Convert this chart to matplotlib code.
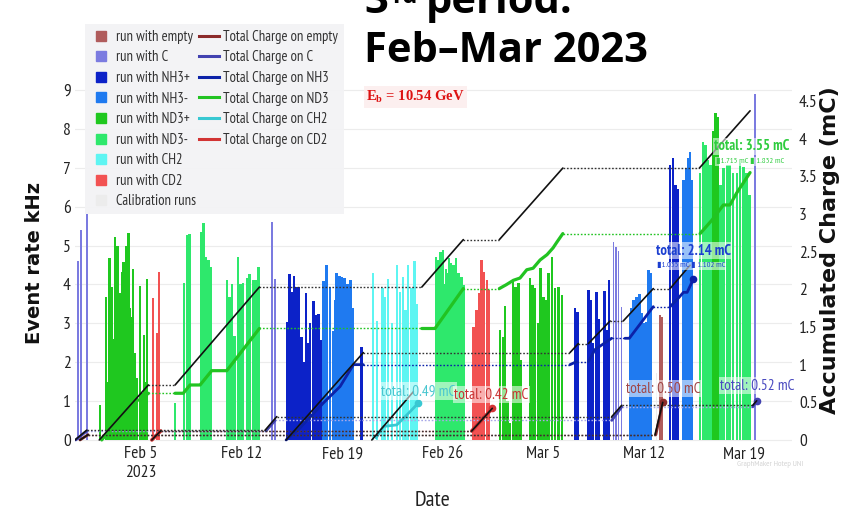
import datetime as dt
import numpy as np
import matplotlib
matplotlib.use('Agg')
import matplotlib.pyplot as plt
import matplotlib.dates as mdates
from matplotlib.lines import Line2D
from matplotlib import font_manager as fm

avail = {f.name for f in fm.fontManager.ttflist}
NARROW = next((n for n in ['PT Sans Narrow', 'Archivo Narrow', 'Roboto Condensed', 'Liberation Sans Narrow']
               if n in avail), 'Liberation Sans')
TITLEF = 'Open Sans' if 'Open Sans' in avail else 'DejaVu Sans'
NFAM = [NARROW, 'DejaVu Sans']

BASE = mdates.date2num(dt.datetime(2023, 2, 1))

# ---------------- data (days after 2023-02-01, kHz / mC) ----------------
tick_days = [4, 11, 18, 25, 32, 39, 46]
tick_labels = ['Feb 5\n2023', 'Feb 12', 'Feb 19', 'Feb 26', 'Mar 5', 'Mar 12', 'Mar 19']
left_ticks = [0, 1, 2, 3, 4, 5, 6, 7, 8, 9]
right_ticks = [0, 0.5, 1, 1.5, 2, 2.5, 3, 3.5, 4, 4.5]
right_labels = ['0', '0.5', '1', '1.5', '2', '2.5', '3', '3.5', '4', '4.5']

empty_t = [40.14, 40.28]
empty_h = [3.21, 3.17]
c_t = [-0.37, -0.18, 0.26, 13.10, 13.33, 36.90, 37.08, 37.25, 37.46, 46.74]
c_h = [4.6, 5.4, 5.8, 5.6, 4.15, 5.1, 4.97, 4.86, 3.43, 8.9]
nh3p_t = [14.19, 14.33, 14.52, 14.65, 14.84, 15.00, 15.19, 15.35, 15.49, 15.63, 15.77, 16.00, 16.19, 16.35, 16.50,
          19.37, 34.22, 34.40, 35.15, 35.31, 35.47, 35.73, 35.89, 36.27, 36.41, 36.59, 40.84, 41.03, 41.22, 41.40]
nh3p_h = [3.04, 4.27, 3.8, 4.22, 3.93, 3.93, 2.66, 2.0, 3.78, 2.5, 3.0, 3.58, 3.21, 3.24, 2.57,
          2.4, 3.39, 3.28, 3.86, 3.6, 2.5, 3.81, 3.1, 3.84, 2.83, 4.11, 7.07, 7.24, 6.55, 6.45]
nh3m_t = [16.69, 16.93, 17.16, 17.37, 17.50, 17.63, 17.81, 17.98, 18.16, 18.37, 18.60, 18.74,
          38.05, 38.16, 38.28, 38.40, 38.52, 38.62, 38.72, 38.89, 39.00, 39.17, 39.34, 39.52,
          41.77, 41.95, 42.13, 42.23, 42.37]
nh3m_h = [4.1, 4.5, 3.93, 2.8, 3.6, 4.3, 4.22, 4.2, 4.16, 4.0, 4.11, 3.4,
          3.26, 3.4, 3.6, 3.5, 3.68, 3.6, 3.75, 3.26, 3.0, 3.04, 4.37, 4.3,
          6.68, 7.0, 7.24, 7.41, 6.68]
nd3p_t = [1.15, 1.56, 1.68, 1.79, 1.96, 2.08, 2.19, 2.35, 2.45, 2.54, 2.66, 2.77, 2.87, 2.96, 3.05, 3.12, 3.20,
          3.28, 3.42, 3.58, 3.72, 3.93, 4.07, 4.21, 4.30, 4.40,
          29.00, 29.19, 29.35, 29.52, 29.70, 29.91, 30.08, 30.28, 30.46, 31.09, 31.27, 31.44, 31.65, 31.83,
          32.01, 32.20, 32.37, 32.62, 32.83, 33.06, 33.30, 43.83, 44.01, 44.18]
nd3p_h = [0.9, 3.68, 1.5, 4.68, 3.93, 2.6, 5.23, 5.0, 3.3, 3.78, 4.33, 4.58, 3.0, 5.0, 2.4, 5.32, 3.4,
          3.17, 4.4, 2.23, 1.6, 3.96, 1.2, 2.7, 1.5, 4.14,
          2.83, 2.66, 3.45, 1.0, 0.43, 4.11, 3.94, 4.03, 2.06, 4.16, 3.98, 3.9, 3.0, 4.42,
          3.68, 3.6, 4.29, 4.71, 3.9, 3.94, 3.73, 7.95, 8.4, 8.3]
nd3m_t = [6.37, 6.99, 7.18, 7.36, 8.16, 8.34, 8.53, 8.69, 8.85, 9.97, 10.15, 10.32, 10.50, 10.76, 10.93,
          11.10, 11.36, 11.54, 11.78, 11.97, 12.18,
          24.54, 24.63, 24.72, 24.86, 24.95, 25.03, 25.14, 25.24, 25.35, 25.45, 25.59, 25.67, 25.76, 25.85,
          25.94, 26.02, 26.11, 26.21, 26.32, 26.46,
          42.93, 43.12, 43.31, 43.49, 43.66, 44.36, 44.57, 44.79, 44.97, 45.23, 45.49, 45.72, 45.95, 46.17, 46.37]
nd3m_h = [0.95, 4.04, 5.27, 5.3, 5.35, 5.58, 4.7, 4.63, 4.45, 4.11, 3.68, 4.0, 2.67, 4.71, 4.0,
          4.03, 4.16, 4.26, 4.11, 4.11, 4.45,
          4.7, 4.0, 4.63, 4.84, 4.2, 4.88, 4.0, 4.4, 4.3, 4.68, 4.55, 4.0, 4.5, 4.2,
          4.68, 4.0, 4.3, 3.9, 4.2, 3.98,
          6.86, 7.67, 7.58, 7.2, 7.07, 6.55, 7.0, 7.07, 7.07, 6.86, 6.86, 7.11, 7.03, 6.86, 6.3]
ch2_t = [20.15, 20.43, 20.82, 20.99, 21.20, 21.48, 21.83, 22.04, 22.25, 22.42, 22.60, 22.84, 23.05, 23.22]
ch2_h = [4.3, 3.05, 3.9, 3.68, 4.15, 3.0, 4.5, 3.8, 4.2, 3.34, 4.5, 3.9, 4.6, 3.5]
cd2_t = [4.85, 5.09, 5.27, 27.15, 27.36, 27.55, 27.71, 27.89, 28.07, 28.23]
cd2_h = [3.65, 2.75, 4.33, 2.91, 3.34, 3.78, 4.63, 4.33, 4.11, 3.85]
calib_t = [39.90]
calib_h = [1.73]

# accumulated charge segments: list of (days, mC)
nd3_black = [([1.09, 4.51], [0, 0.73]), ([6.37, 12.24], [0.73, 2.03]), ([23.55, 26.44], [2.03, 2.66]),
             ([28.95, 33.37], [2.66, 3.61]), ([42.88, 46.41], [3.61, 4.37])]
nd3_line = [([1.26, 3.58, 3.93, 4.51], [0, 0.53, 0.53, 0.62]),
            ([6.37, 6.94, 7.41, 8.11, 8.92, 9.97, 12.24], [0.62, 0.62, 0.73, 0.73, 0.92, 0.92, 1.48]),
            ([23.55, 24.47, 26.44], [1.48, 1.48, 2.01]),
            ([28.95, 29.42, 29.93, 30.39, 30.86, 31.30, 31.79, 32.27, 32.69, 32.97, 33.37],
             [2.01, 2.06, 2.12, 2.15, 2.26, 2.28, 2.39, 2.46, 2.55, 2.63, 2.74]),
            ([42.93, 43.76, 44.55, 45.01, 45.48, 46.41], [2.74, 2.92, 3.12, 3.12, 3.28, 3.55])]
nh3_black = [([14.10, 19.48], [0, 1.16]), ([33.87, 34.45], [1.16, 1.28]), ([35.15, 36.66], [1.28, 1.58]),
             ([37.58, 39.67], [1.58, 2.01]), ([40.84, 42.23], [2.01, 2.32])]
nh3_line = [([14.10, 15.07, 16.69, 17.86, 18.79, 19.48], [0, 0.16, 0.49, 0.71, 1.0, 1.0]),
            ([33.87, 34.33], [1.0, 1.04]),
            ([35.15, 35.61, 36.77], [1.04, 1.2, 1.35]),
            ([37.70, 38.00, 39.67], [1.35, 1.35, 1.77]),
            ([40.84, 41.31, 41.77, 42.03, 42.47], [1.77, 1.86, 1.96, 1.96, 2.14])]
ch2_black = [([20.07, 22.96], [0, 0.64])]
ch2_line = [([20.37, 20.88, 21.81, 22.50, 23.31], [0.03, 0.18, 0.2, 0.33, 0.49])]
cd2_black = [([4.75, 5.37], [0, 0.12]), ([27.03, 28.46], [0.12, 0.42])]
cd2_line = [([4.75, 5.37], [0, 0.12]), ([27.03, 28.46], [0.12, 0.42])]
c_black = [([-0.60, 0.22], [0, 0.13]), ([12.64, 13.45], [0.13, 0.31]), ([36.78, 37.47], [0.31, 0.46]),
           ([46.60, 46.87], [0.46, 0.52])]
c_line = [([-0.55, 0.22], [0, 0.12]), ([12.70, 13.33], [0.12, 0.26]), ([36.78, 37.47], [0.26, 0.44]),
          ([46.60, 46.87], [0.44, 0.52])]
empty_black = [([-0.25, 0.31], [0, 0.07]), ([39.79, 40.33], [0.07, 0.50])]
empty_line = [([-0.25, 0.31], [0, 0.07]), ([39.85, 40.33], [0.07, 0.50])]

# ---------------- style ----------------
COL_EMPTY, COL_C, COL_NH3P, COL_NH3M = '#b05c5c', '#7b7be0', '#0c22c8', '#1f7af0'
COL_ND3P, COL_ND3M, COL_CH2, COL_CD2, COL_CAL = '#1fc81f', '#2ee86c', '#5ef5f2', '#f25252', '#ececec'
L_EMPTY, L_C, L_NH3, L_ND3, L_CH2, L_CD2 = '#8b2a2a', '#4242b0', '#0c22a8', '#22c322', '#38c8d2', '#d23434'

fig = plt.figure(figsize=(8.46, 5.16), dpi=100)
W, H = 846.0, 516.0
ax = fig.add_axes([75 / W, 74 / H, (792 - 75) / W, (442 - 88) / H])
ax2 = ax.twinx()

def X(t):
    return BASE + np.asarray(t, dtype=float)

bar_sets = [(calib_t, calib_h, COL_CAL, 0.08), (empty_t, empty_h, COL_EMPTY, 0.16), (c_t, c_h, COL_C, 0.12),
            (nh3p_t, nh3p_h, COL_NH3P, 0.18), (nh3m_t, nh3m_h, COL_NH3M, 0.18),
            (nd3p_t, nd3p_h, COL_ND3P, 0.17), (nd3m_t, nd3m_h, COL_ND3M, 0.17),
            (ch2_t, ch2_h, COL_CH2, 0.16), (cd2_t, cd2_h, COL_CD2, 0.16)]
for t, h, col, w in bar_sets:
    ax.bar(X(t), h, width=w, color=col, linewidth=0, align='center', zorder=2)

dots = (0, (1.2, 1.3))

def draw_series(segs, color, lw, hold_color=None, end_dot=False, z=3):
    hc = hold_color or color
    for i, (t, q) in enumerate(segs):
        ax2.plot(X(t), q, color=color, lw=lw, solid_capstyle='round', zorder=z)
        if i + 1 < len(segs):
            nt = segs[i + 1][0][0]
            ax2.plot(X([t[-1], nt]), [q[-1], q[-1]], color=hc, lw=1.0, ls=dots, zorder=z - 0.5)
    if end_dot:
        t, q = segs[-1]
        ax2.plot(X([t[-1]]), [q[-1]], 'o', color=color, ms=4.5, zorder=z + 1)

draw_series(empty_line, L_EMPTY, 2.0, end_dot=True)
draw_series(c_line, L_C, 2.0, hold_color='#a8a8e8', end_dot=True)
draw_series(cd2_line, L_CD2, 2.6, end_dot=True)
draw_series(ch2_line, L_CH2, 2.0, end_dot=True)
draw_series(nh3_line, L_NH3, 2.0, end_dot=True)
draw_series(nd3_line, L_ND3, 2.3)
for segs in (empty_black, c_black, cd2_black, ch2_black, nh3_black, nd3_black):
    draw_series(segs, '#111111', 1.2, hold_color='#333333', z=4)

# labels for totals
lab_kw = dict(fontsize=11, family=NFAM, va='center', ha='left', zorder=6,
              bbox=dict(boxstyle='square,pad=0.1', facecolor='white', edgecolor='none', alpha=0.55))
ax2.text(X(20.71), 0.65, 'total: 0.49 mC', color='#48c6d0', **lab_kw)
ax2.text(X(25.80), 0.60, 'total: 0.42 mC', color='#c83232', **lab_kw)
ax2.text(X(37.78), 0.68, 'total: 0.50 mC', color='#a04646', **lab_kw)
ax2.text(X(44.32), 0.72, 'total: 0.52 mC', color='#4a4ac0', **lab_kw)
bold_kw = dict(lab_kw, fontsize=10.5, fontweight='bold')
ax2.text(X(39.86), 2.51, 'total: 2.14 mC', color='#1c3fd0', **bold_kw)
ax2.text(X(43.90), 3.90, 'total: 3.55 mC', color='#2fcc3f', **bold_kw)
small_kw = dict(lab_kw, fontsize=6)
ax2.text(X(39.93), 2.31, '\u25ae1.035 mC \u25ae 1.102 mC', color='#1c3fd0', **small_kw)
ax2.text(X(44.04), 3.70, '\u25ae1.715 mC \u25ae 1.832 mC', color='#2fcc3f', **small_kw)

# axes formatting
ax.set_xlim(X(-0.60), X(49.33))
ax.set_ylim(-0.05, 9.05)
ax2.set_ylim(-0.027, 4.673)
ax.set_xticks(X(tick_days))
ax.set_xticklabels(tick_labels)
ax.set_yticks(left_ticks)
ax.set_yticklabels([str(v) for v in left_ticks])
ax2.set_yticks(right_ticks)
ax2.set_yticklabels(right_labels)
for a in (ax, ax2):
    for s in a.spines.values():
        s.set_visible(False)
ax.tick_params(axis='both', length=0, labelsize=12.5, labelcolor='#222222')
ax.tick_params(axis='x', pad=3)
ax.tick_params(axis='y', pad=3)
ax2.tick_params(axis='y', length=0, labelsize=12.5, labelcolor='#222222', pad=5)
for lbl in ax.get_xticklabels() + ax.get_yticklabels() + ax2.get_yticklabels():
    lbl.set_family(NFAM)
ax.grid(axis='y', color='#ececec', lw=0.8, zorder=0)
ax.set_axisbelow(True)

# axis titles
fig.text(35 / W, 1 - 263 / H, 'Event rate kHz', rotation=90, ha='center', va='center',
         fontsize=14, fontweight='bold', family='DejaVu Sans', color='#111111')
fig.text(830 / W, 1 - 250 / H, 'Accumulated Charge (mC)', rotation=90, ha='center', va='center',
         fontsize=16, fontweight='bold', family='DejaVu Sans', color='#111111')
fig.text(432 / W, 1 - 500 / H, 'Date', ha='center', va='center', fontsize=16, family=NFAM, color='#222222')

# title block (top line is cut by the image edge, as in the original slide)
fig.text(364 / W, 1 - 13 / H, '3', ha='left', va='baseline', fontsize=30, fontweight='bold', family=TITLEF)
fig.text(392 / W, 1 - 3 / H, 'rd', ha='left', va='baseline', fontsize=17, fontweight='bold', family=TITLEF)
fig.text(426 / W, 1 - 13 / H, 'period:', ha='left', va='baseline', fontsize=30, fontweight='bold', family=TITLEF)
fig.text(364 / W, 1 - 62 / H, 'Feb\u2013Mar 2023', ha='left', va='baseline', fontsize=30, fontweight='bold',
         family=TITLEF)
fig.text(366 / W, 1 - 97 / H, r'E$_\mathregular{b}$ = 10.54 GeV', ha='left', va='center', fontsize=10.5,
         fontweight='bold', family='Liberation Serif', color='#dd1111',
         bbox=dict(boxstyle='square,pad=0.15', facecolor='#fcefef', edgecolor='none'))
fig.text(770 / W, 1 - 465 / H, 'GraphMaker Hotep UNI', ha='center', va='center', fontsize=6,
         family=NFAM, color='#d4d4d4')

# legend
bar_cols = [COL_EMPTY, COL_C, COL_NH3P, COL_NH3M, COL_ND3P, COL_ND3M, COL_CH2, COL_CD2, COL_CAL]
bar_names = ['run with empty', 'run with C', 'run with NH3+', 'run with NH3-', 'run with ND3+', 'run with ND3-',
             'run with CH2', 'run with CD2', 'Calibration runs']
line_cols = [L_EMPTY, L_C, L_NH3, L_ND3, L_CH2, L_CD2]
line_names = ['Total Charge on empty', 'Total Charge on C', 'Total Charge on NH3', 'Total Charge on ND3',
              'Total Charge on CH2', 'Total Charge on CD2']
handles = [Line2D([], [], marker='s', ls='none', ms=7.5, mfc=c, mec=c) for c in bar_cols]
handles += [Line2D([], [], color=c, lw=2.2) for c in line_cols]
handles += [Line2D([], [], ls='none') for _ in range(3)]
labels = bar_names + line_names + ['', '', '']
leg = fig.legend(handles, labels, ncol=2, loc='upper left', bbox_to_anchor=(85 / W, 1 - 24 / H),
                 frameon=True, fancybox=False, prop={'family': NARROW, 'size': 10.5}, handlelength=1.4,
                 handletextpad=0.3, columnspacing=0.2, labelspacing=0.45, borderpad=0.4, borderaxespad=0)
leg.get_frame().set_facecolor('#f3f3f5')
leg.get_frame().set_edgecolor('none')
leg.get_frame().set_alpha(0.95)
for txt in leg.get_texts():
    txt.set_color('#333333')

fig.savefig('out.png', dpi=100, facecolor='white')
